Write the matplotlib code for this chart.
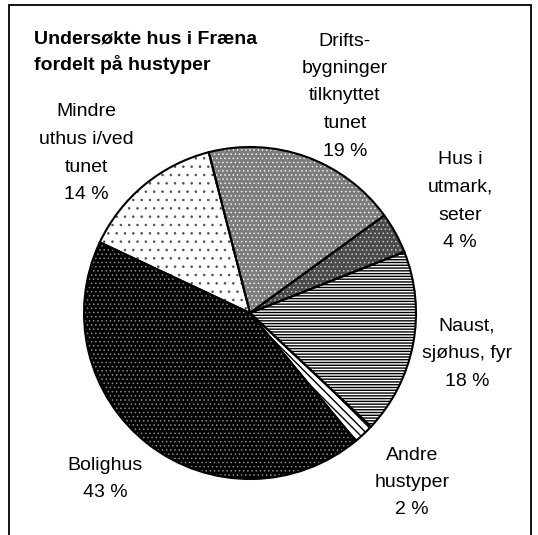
import matplotlib.pyplot as plt
from matplotlib.patches import Rectangle

plt.rcParams["font.family"] = ["Liberation Sans", "DejaVu Sans"]
plt.rcParams["hatch.linewidth"] = 1.0

# ── Data ──────────────────────────────────────────────────────────────────────
categories = [
    "Drifts-\nbygninger\ntilknyttet\ntunet",
    "Hus i\nutmark,\nseter",
    "Naust,\nsjøhus, fyr",
    "Andre\nhustyper",
    "Bolighus",
    "Mindre\nuthus i/ved\ntunet",
]
shares = [19, 4, 18, 2, 43, 14]
title = "Undersøkte hus i Fræna\nfordelt på hustyper"

# ── Styling (fill, hatch colour, hatch, hatch width) ──────────────────────────
FILLS = ["#7c7c7c", "#4a4a4a", "white", "white", "black", "white"]
HATCH_COLORS = ["#f0f0f0", "#c8c8c8", "black", "black", "#8a8a8a", "#505050"]
HATCHES = ["....", "....", "------", "\\\\\\\\", "....", ".."]
HATCH_LW = [0.6, 0.6, 1.0, 1.0, 0.6, 0.6]

# label anchor: centre x, first line y (pixels from top-left)
LABEL_POS = [(345, 41), (460, 160), (467, 326), (412, 455), (105, 465), (86, 112)]
LINE_STEP = 27.5

W, H = 538, 535
fig = plt.figure(figsize=(W / 100, H / 100), dpi=100)
ax = fig.add_axes([0, 0, 1, 1])

centre = (250, H - 313)
radius = 166
common = dict(center=centre, radius=radius, startangle=104.4, counterclock=False)

# base fill
ax.pie(shares, colors=FILLS, wedgeprops=dict(linewidth=0), **common)
# hatch overlay
wedges, _ = ax.pie(shares, wedgeprops=dict(linewidth=0, facecolor="none"), **common)
for w, hc, h, hlw in zip(wedges, HATCH_COLORS, HATCHES, HATCH_LW):
    w.set_facecolor("none")
    w.set_edgecolor(hc)
    w.set_hatch(h)
    w.set_linewidth(0)
    if hasattr(w, "set_hatch_linewidth"):
        w.set_hatch_linewidth(hlw)
# outlines
ax.pie(shares, wedgeprops=dict(linewidth=1.5, edgecolor="black", facecolor="none"), **common)

ax.set_xlim(0, W)
ax.set_ylim(0, H)
ax.set_aspect("equal")
ax.axis("off")

# labels
for cat, share, (lx, ly) in zip(categories, shares, LABEL_POS):
    lines = cat.split("\n") + [f"{share} %"]
    for i, line in enumerate(lines):
        ax.text(lx, H - (ly + i * LINE_STEP), line, ha="center", va="center",
                fontsize=14)

# title
for i, line in enumerate(title.split("\n")):
    ax.text(34, H - (39 + i * 26), line, ha="left", va="center",
            fontsize=14, fontweight="bold")

# frame
ax.add_patch(Rectangle((9, -10), 522, H - 5 + 10, fill=False, edgecolor="black",
                       linewidth=1.3, clip_on=False))

fig.savefig("out.png", dpi=100, facecolor="white")
